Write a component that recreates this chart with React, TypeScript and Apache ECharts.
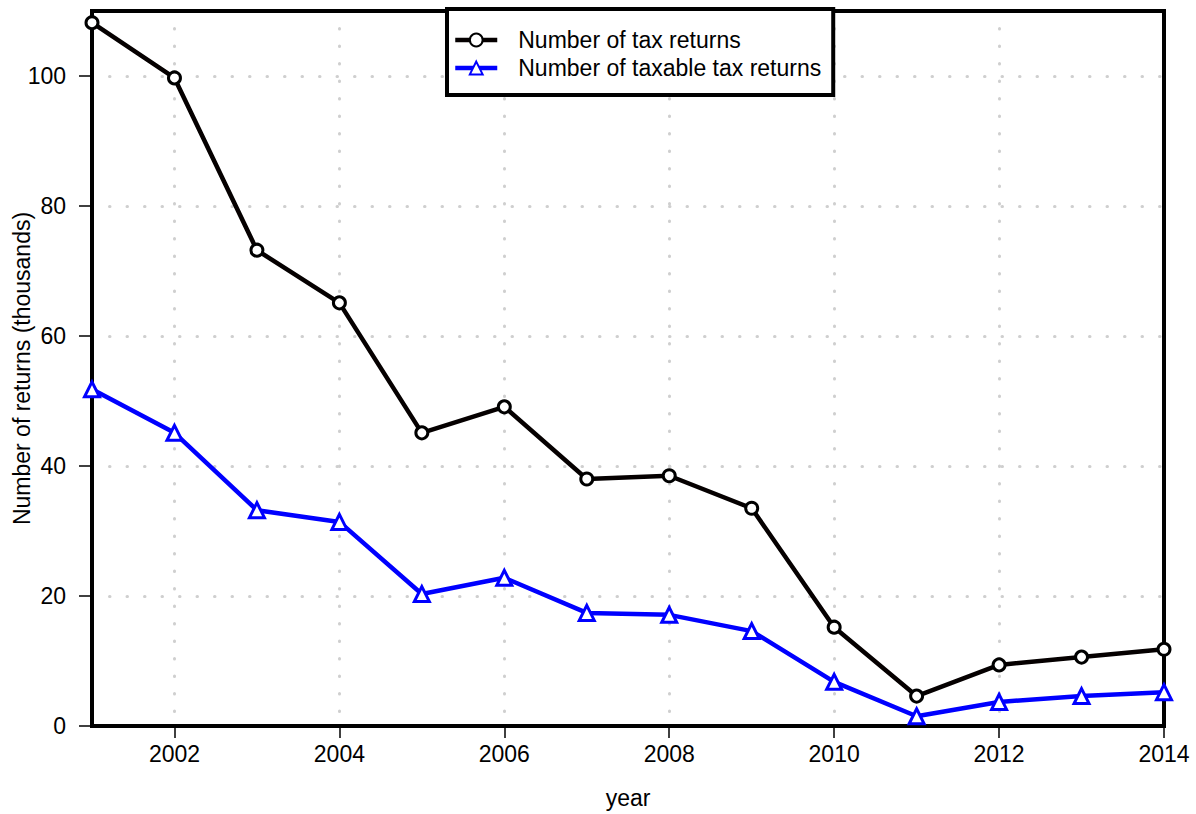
import React, { useEffect, useRef } from "react";
import * as echarts from "echarts";

const years = ["2001", "2002", "2003", "2004", "2005", "2006", "2007", "2008", "2009", "2010", "2011", "2012", "2013", "2014"];
const taxReturns = [108.2, 99.7, 73.2, 65.1, 45.1, 49.1, 38.0, 38.5, 33.5, 15.2, 4.6, 9.4, 10.6, 11.8];
const taxableReturns = [51.8, 45.1, 33.2, 31.4, 20.3, 22.8, 17.4, 17.1, 14.6, 6.8, 1.5, 3.7, 4.6, 5.2];
const yTicks = [0, 20, 40, 60, 80, 100];

const FONT = "Liberation Sans, Arial, Helvetica, sans-serif";
const FS = 23;

export default function App() {
  const ref = useRef<HTMLDivElement>(null);
  useEffect(() => {
    if (!ref.current) return;
    const chart = echarts.init(ref.current, null, { renderer: "svg" });
    const evenIdx = (i: number) => i % 2 === 1;
    const gridLine = { color: "#cfcfcf", width: 3, type: [0.5, 17], cap: "round" };
    chart.setOption({
      animation: false,
      backgroundColor: "#ffffff",
      textStyle: { fontFamily: FONT },
      grid: {
        left: 92, top: 11, right: 32, bottom: 88,
        containLabel: false,
        outerBoundsMode: "none",
        show: true, borderColor: "#000", borderWidth: 4, backgroundColor: "transparent",
        z: 3,
      },
      legend: {
        left: 447, top: 9,
        orient: "vertical",
        backgroundColor: "#ffffff",
        borderColor: "#000", borderWidth: 4, borderRadius: 0,
        padding: [19, 12, 15, 6],
        itemWidth: 42, itemHeight: 16, itemGap: 4,
        lineStyle: { width: 4.5 },
        textStyle: { fontSize: FS, color: "#000", fontFamily: FONT, lineHeight: 24, padding: [0, 0, 0, 16] },
        z: 10,
      },
      xAxis: {
        type: "category",
        data: years,
        boundaryGap: false,
        name: "year",
        nameLocation: "middle",
        nameGap: 60,
        nameMoveOverlap: false,
        nameTextStyle: { fontSize: FS, color: "#000", fontFamily: FONT },
        axisLine: { show: false },
        axisTick: { show: true, interval: evenIdx, length: 12, lineStyle: { color: "#000", width: 1.5 } },
        axisLabel: { interval: evenIdx, fontSize: FS, color: "#000", margin: 16, fontFamily: FONT },
        splitLine: { show: true, interval: evenIdx, lineStyle: gridLine },
      },
      yAxis: {
        type: "value",
        min: 0, max: 110, interval: 20,
        name: "Number of returns (thousands)",
        nameLocation: "middle",
        nameGap: 59,
        nameMoveOverlap: false,
        nameTextStyle: { fontSize: FS, color: "#000", fontFamily: FONT },
        axisLine: { show: false },
        axisTick: { show: true, length: 13, customValues: yTicks, lineStyle: { color: "#000", width: 1.5 } },
        axisLabel: { fontSize: FS, color: "#000", margin: 26, customValues: yTicks, fontFamily: FONT },
        splitLine: { show: true, lineStyle: gridLine },
      },
      series: [
        {
          name: "Number of tax returns",
          type: "line",
          data: taxReturns,
          symbol: "circle",
          symbolSize: 12,
          lineStyle: { color: "#050000", width: 4.5 },
          itemStyle: { color: "#fff", borderColor: "#000", borderWidth: 3 },
          z: 4,
        },
        {
          name: "Number of taxable tax returns",
          type: "line",
          data: taxableReturns,
          symbol: "triangle",
          symbolSize: 15,
          lineStyle: { color: "#0000ff", width: 4.5 },
          itemStyle: { color: "#fff", borderColor: "#0000ff", borderWidth: 3 },
          z: 4,
        },
      ],
    });
    return () => chart.dispose();
  }, []);
  return <div ref={ref} style={{ position: "fixed", left: 0, top: 0, width: 1196, height: 814 }} />;
}
